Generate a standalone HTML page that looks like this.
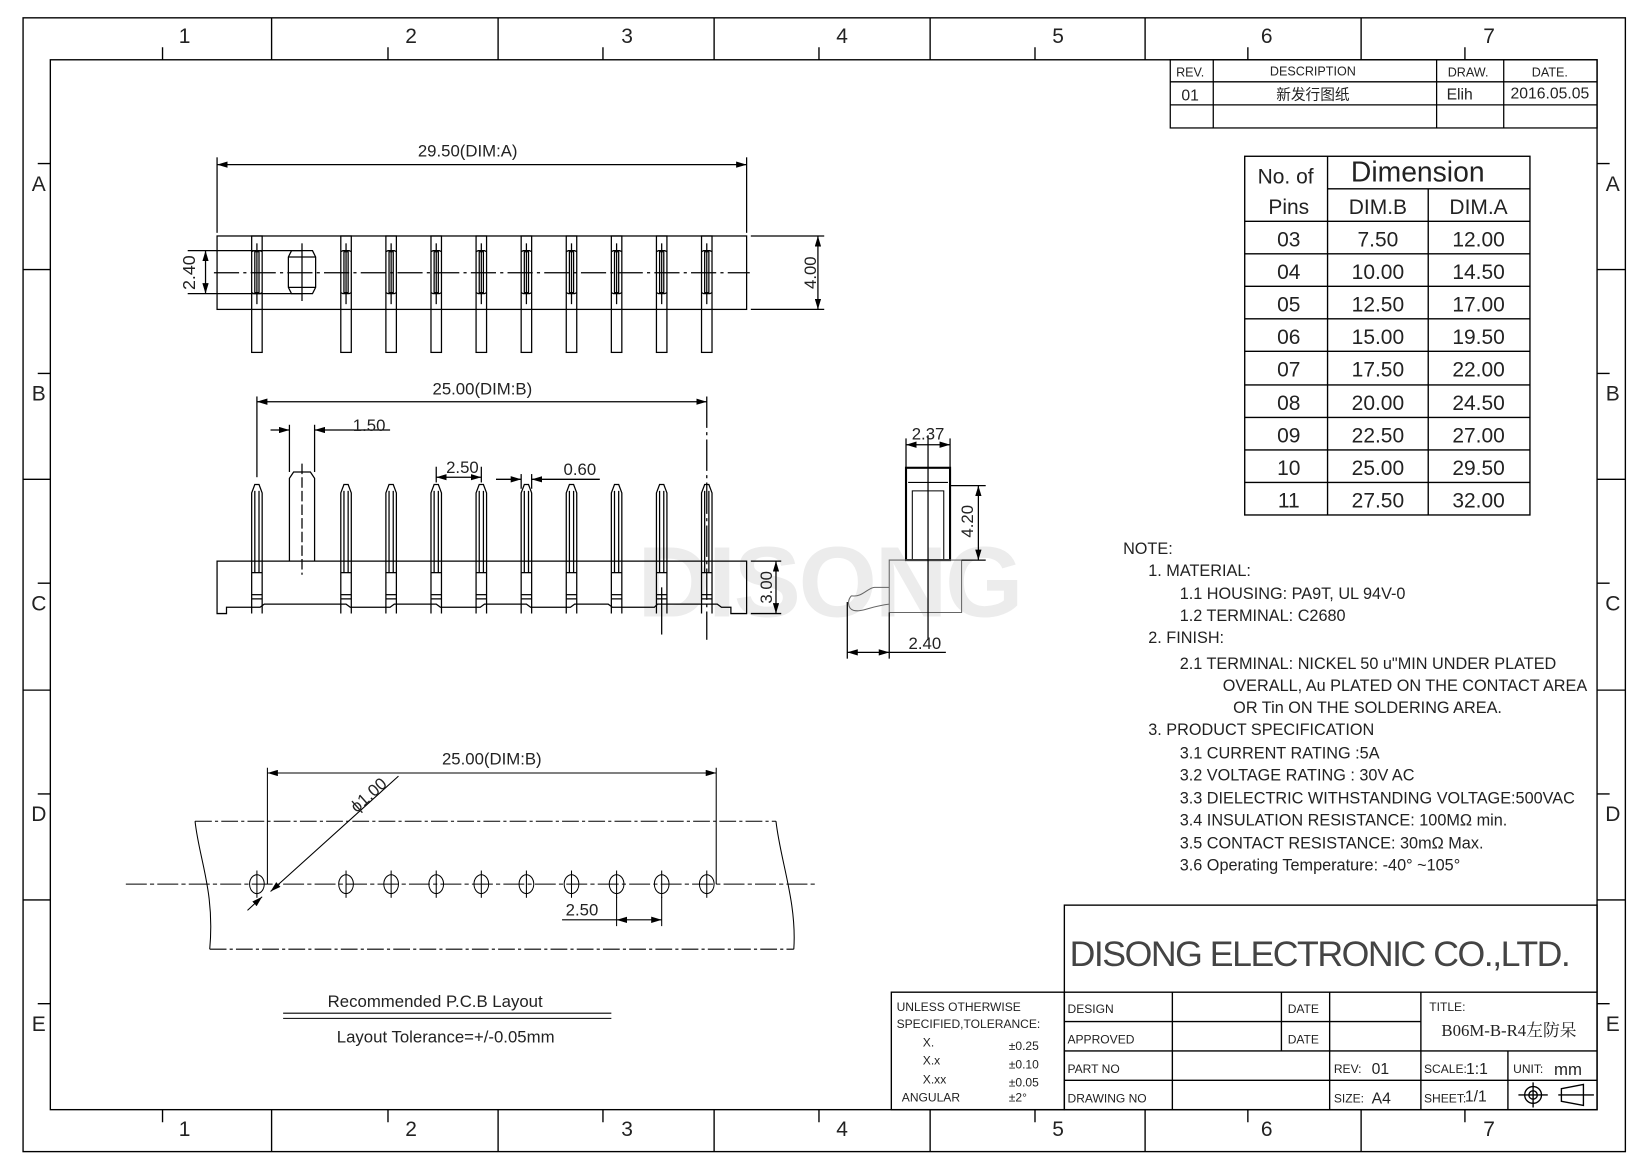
<!DOCTYPE html>
<html><head><meta charset="utf-8"><style>
html,body{margin:0;padding:0;background:#fff}
svg{display:block}
text{font-family:"Liberation Sans","Noto Sans CJK SC",sans-serif;fill:#222}
</style></head><body>
<svg width="1639" height="1160" viewBox="0 0 1563 1106" preserveAspectRatio="none" xmlns="http://www.w3.org/2000/svg">
<defs>
<marker id="ar" viewBox="0 0 10 6" refX="10" refY="3" markerWidth="10" markerHeight="6" orient="auto-start-reverse" markerUnits="userSpaceOnUse"><path d="M0,0 L10,3 L0,6z" fill="#000"/></marker>
<g id="tp" fill="none" stroke="#000" stroke-width="1.2"><rect x="-5" y="225" width="10" height="111"/><path d="M-5,240L-3,239H3L5,240M-5,279L-3,280H3L5,279"/><rect x="-2" y="240" width="4" height="39"/><line x1="0" y1="232" x2="0" y2="290"/></g>
<g id="sp" fill="none" stroke="#000" stroke-width="1.2"><path d="M-5,585 V470 L-2,462 H2 L5,470 V585"/><line x1="-2" y1="468" x2="-2" y2="546"/><line x1="2" y1="468" x2="2" y2="546"/><line x1="-5" y1="546" x2="5" y2="546"/><line x1="-5" y1="567" x2="5" y2="567"/><line x1="-5" y1="571" x2="5" y2="571"/></g>
<g id="ho" fill="none" stroke="#000" stroke-width="1"><ellipse cx="0" cy="843" rx="7" ry="9"/><line x1="0" y1="830" x2="0" y2="856"/></g>
</defs>
<rect width="1563" height="1106" fill="#fff"/>
<text x="608" y="588" font-size="96" font-weight="bold" style="fill:#ececec" textLength="368">DISONG</text>
<g fill="none" stroke="#000" stroke-width="1.3">
<rect x="22" y="17" width="1528" height="1081"/>
<rect x="48" y="57" width="1475" height="1001"/>
<path d="M259,17V57M475,17V57M681,17V57M887,17V57M1092,17V57M1298,17V57M259,1058V1098M475,1058V1098M681,1058V1098M887,1058V1098M1092,1058V1098M1298,1058V1098"/>
<path d="M155,45V57M370,45V57M575,45V57M781,45V57M987,45V57M1190,45V57M1397,45V57M155,1058V1070M370,1058V1070M575,1058V1070M781,1058V1070M987,1058V1070M1190,1058V1070M1397,1058V1070"/>
<path d="M22,257H48M22,457H48M22,658H48M22,858H48M1523,257H1550M1523,457H1550M1523,658H1550M1523,858H1550"/>
<path d="M36,156H48M36,356H48M36,556H48M36,757H48M36,957H48M1523,156H1535M1523,356H1535M1523,556H1535M1523,757H1535M1523,957H1535"/>
</g>
<g font-size="20" text-anchor="middle">
<text x="176" y="41">1</text><text x="392" y="41">2</text><text x="598" y="41">3</text><text x="803" y="41">4</text><text x="1009" y="41">5</text><text x="1208" y="41">6</text><text x="1420" y="41">7</text>
<text x="176" y="1083">1</text><text x="392" y="1083">2</text><text x="598" y="1083">3</text><text x="803" y="1083">4</text><text x="1009" y="1083">5</text><text x="1208" y="1083">6</text><text x="1420" y="1083">7</text>
<text x="37" y="182">A</text><text x="37" y="382">B</text><text x="37" y="582">C</text><text x="37" y="783">D</text><text x="37" y="983">E</text>
<text x="1538" y="182">A</text><text x="1538" y="382">B</text><text x="1538" y="582">C</text><text x="1538" y="783">D</text><text x="1538" y="983">E</text>
</g>
<g fill="none" stroke="#000" stroke-width="1.2">
<rect x="1116" y="57" width="407" height="65"/>
<path d="M1116,78H1523M1116,100H1523M1157,57V122M1370,57V122M1434,57V122"/>
</g>
<g font-size="12" text-anchor="middle">
<text x="1135" y="73">REV.</text><text x="1252" y="72">DESCRIPTION</text><text x="1400" y="73">DRAW.</text><text x="1478" y="73">DATE.</text>
<text x="1135" y="96" font-size="15">01</text><text x="1252" y="95" font-size="14">新发行图纸</text><text x="1392" y="95" font-size="15">Elih</text><text x="1478" y="94" font-size="15">2016.05.05</text>
</g>
<g fill="none" stroke="#000" stroke-width="1.3">
<rect x="1187" y="149" width="272" height="342"/>
<path d="M1266,149V491M1362,180V491M1266,180H1459"/>
<path d="M1187,211H1459M1187,242H1459M1187,273H1459M1187,304H1459M1187,335H1459M1187,367H1459M1187,398H1459M1187,429H1459M1187,460H1459"/>
</g>
<g font-size="20" text-anchor="middle" style="fill:#333">
<text x="1226" y="175">No. of</text><text x="1352" y="173" font-size="27">Dimension</text>
<text x="1229" y="204">Pins</text><text x="1314" y="204">DIM.B</text><text x="1410" y="204">DIM.A</text>
<text x="1229" y="235">03</text><text x="1314" y="235">7.50</text><text x="1410" y="235">12.00</text>
<text x="1229" y="266">04</text><text x="1314" y="266">10.00</text><text x="1410" y="266">14.50</text>
<text x="1229" y="297">05</text><text x="1314" y="297">12.50</text><text x="1410" y="297">17.00</text>
<text x="1229" y="328">06</text><text x="1314" y="328">15.00</text><text x="1410" y="328">19.50</text>
<text x="1229" y="359">07</text><text x="1314" y="359">17.50</text><text x="1410" y="359">22.00</text>
<text x="1229" y="391">08</text><text x="1314" y="391">20.00</text><text x="1410" y="391">24.50</text>
<text x="1229" y="422">09</text><text x="1314" y="422">22.50</text><text x="1410" y="422">27.00</text>
<text x="1229" y="453">10</text><text x="1314" y="453">25.00</text><text x="1410" y="453">29.50</text>
<text x="1229" y="484">11</text><text x="1314" y="484">27.50</text><text x="1410" y="484">32.00</text>
</g>
<!-- TOP VIEW -->
<g fill="none" stroke="#000" stroke-width="1.2">
<rect x="207" y="225" width="505" height="70"/>
<line x1="207" y1="150" x2="207" y2="222"/><line x1="712" y1="150" x2="712" y2="222"/>
<line x1="207" y1="157" x2="712" y2="157" marker-start="url(#ar)" marker-end="url(#ar)"/>
<line x1="716" y1="225" x2="786" y2="225"/><line x1="716" y1="295" x2="786" y2="295"/>
<line x1="780" y1="225" x2="780" y2="295" marker-start="url(#ar)" marker-end="url(#ar)"/>
<line x1="179" y1="239" x2="288" y2="239"/><line x1="179" y1="280" x2="288" y2="280"/>
<line x1="196" y1="239" x2="196" y2="280" marker-start="url(#ar)" marker-end="url(#ar)"/>
<line x1="204" y1="260" x2="715" y2="260" stroke-dasharray="24,4,3,4"/>
<path d="M278,239H298L301,245V274L298,280H278L275,274V245Z"/><line x1="288" y1="232" x2="288" y2="287"/><line x1="275" y1="245" x2="301" y2="245"/><line x1="275" y1="274" x2="301" y2="274"/>
</g>
<use href="#tp" x="245"/><use href="#tp" x="330"/><use href="#tp" x="373"/><use href="#tp" x="416"/><use href="#tp" x="459"/><use href="#tp" x="502"/><use href="#tp" x="545"/><use href="#tp" x="588"/><use href="#tp" x="631"/><use href="#tp" x="674"/>
<text x="446" y="149" font-size="16" text-anchor="middle">29.50(DIM:A)</text>
<text transform="translate(186,260) rotate(-90)" font-size="17" text-anchor="middle">2.40</text>
<text transform="translate(778,260) rotate(-90)" font-size="16" text-anchor="middle">4.00</text>
<!-- SIDE VIEW -->
<g fill="none" stroke="#000" stroke-width="1.2">
<path d="M207,535H712V585H697V579H688L684,576H627L624,579H584L580,576H548L544,579H506L502,576H462L458,579H420L416,576H376L372,579H334L330,576H252L248,579H216V585H207Z"/>
<path d="M276,535V456L280,450H296L300,456V535"/><line x1="288" y1="442" x2="288" y2="548" stroke-dasharray="10,3"/>
<line x1="245" y1="378" x2="245" y2="455"/><line x1="674" y1="378" x2="674" y2="610" stroke-dasharray="30,4,3,4"/>
<line x1="245" y1="383" x2="674" y2="383" marker-start="url(#ar)" marker-end="url(#ar)"/>
<line x1="276" y1="405" x2="276" y2="450"/><line x1="300" y1="405" x2="300" y2="450"/>
<line x1="258" y1="410" x2="276" y2="410" marker-end="url(#ar)"/><line x1="372" y1="410" x2="300" y2="410" marker-end="url(#ar)"/>
<line x1="416" y1="445" x2="416" y2="460"/><line x1="459" y1="445" x2="459" y2="460"/>
<line x1="416" y1="455" x2="459" y2="455" marker-start="url(#ar)" marker-end="url(#ar)"/>
<line x1="497" y1="452" x2="497" y2="466"/><line x1="507" y1="452" x2="507" y2="466"/>
<line x1="473" y1="457" x2="497" y2="457" marker-end="url(#ar)"/><line x1="572" y1="457" x2="507" y2="457" marker-end="url(#ar)"/>
<line x1="631" y1="560" x2="631" y2="605"/>
<line x1="716" y1="535" x2="745" y2="535"/><line x1="716" y1="585" x2="745" y2="585"/>
<line x1="740" y1="535" x2="740" y2="585" marker-start="url(#ar)" marker-end="url(#ar)"/>
</g>
<use href="#sp" x="245"/><use href="#sp" x="330"/><use href="#sp" x="373"/><use href="#sp" x="416"/><use href="#sp" x="459"/><use href="#sp" x="502"/><use href="#sp" x="545"/><use href="#sp" x="588"/><use href="#sp" x="631"/><use href="#sp" x="674"/>
<text x="460" y="376" font-size="16" text-anchor="middle">25.00(DIM:B)</text>
<text x="352" y="411" font-size="16" text-anchor="middle">1.50</text>
<text x="441" y="451" font-size="16" text-anchor="middle">2.50</text>
<text x="553" y="453" font-size="16" text-anchor="middle">0.60</text>
<text transform="translate(736,560) rotate(-90)" font-size="16" text-anchor="middle">3.00</text>
<!-- RIGHT VIEW -->
<g fill="none" stroke="#000" stroke-width="1.2">
<rect x="864" y="446" width="42" height="88" stroke-width="2"/>
<path d="M870,534V468H900V534" stroke-width="1"/>
<path d="M866,460H904" stroke-width="1"/>
<path d="M848,534H917V584H848Z M848,560H834C828,560 822,570 812,568 M812,568C808,572 808,580 814,582C822,584 830,578 848,576" stroke="#666" stroke-width="1"/>
<line x1="885" y1="415" x2="885" y2="610"/>
<line x1="864" y1="418" x2="864" y2="446"/><line x1="906" y1="418" x2="906" y2="446"/>
<line x1="864" y1="424" x2="906" y2="424" marker-start="url(#ar)" marker-end="url(#ar)"/>
<line x1="906" y1="463" x2="940" y2="463"/><line x1="917" y1="534" x2="940" y2="534"/>
<line x1="933" y1="463" x2="933" y2="534" marker-start="url(#ar)" marker-end="url(#ar)"/>
<line x1="808" y1="574" x2="808" y2="628"/><line x1="848" y1="584" x2="848" y2="628"/>
<line x1="808" y1="622" x2="848" y2="622" marker-start="url(#ar)" marker-end="url(#ar)"/>
<line x1="848" y1="622" x2="902" y2="622"/>
</g>
<text x="885" y="419" font-size="16" text-anchor="middle">2.37</text>
<text transform="translate(928,497) rotate(-90)" font-size="16" text-anchor="middle">4.20</text>
<text x="882" y="619" font-size="16" text-anchor="middle">2.40</text>
<!-- PCB LAYOUT -->
<g fill="none" stroke="#000" stroke-width="1">
<line x1="186" y1="783" x2="740" y2="783" stroke-dasharray="16,3,3,3"/>
<line x1="200" y1="905" x2="757" y2="905" stroke-dasharray="16,3,3,3"/>
<path d="M186,783C190,820 205,850 200,905M740,783C744,820 760,860 757,905"/>
<line x1="120" y1="843" x2="780" y2="843" stroke-dasharray="20,3,4,3"/>
<line x1="255" y1="732" x2="255" y2="843"/><line x1="683" y1="732" x2="683" y2="843"/>
<line x1="255" y1="737" x2="683" y2="737" marker-start="url(#ar)" marker-end="url(#ar)"/>
<line x1="380" y1="740" x2="258" y2="850" marker-end="url(#ar)"/>
<line x1="236" y1="868" x2="250" y2="855" marker-end="url(#ar)"/>
<line x1="588" y1="855" x2="588" y2="883"/><line x1="631" y1="855" x2="631" y2="883"/>
<line x1="588" y1="877" x2="631" y2="877" marker-start="url(#ar)" marker-end="url(#ar)"/>
<line x1="536" y1="877" x2="588" y2="877"/>
</g>
<use href="#ho" x="245"/><use href="#ho" x="330"/><use href="#ho" x="373"/><use href="#ho" x="416"/><use href="#ho" x="459"/><use href="#ho" x="502"/><use href="#ho" x="545"/><use href="#ho" x="588"/><use href="#ho" x="631"/><use href="#ho" x="674"/>
<text x="469" y="729" font-size="16" text-anchor="middle">25.00(DIM:B)</text>
<text transform="translate(355,762) rotate(-42)" font-size="16" text-anchor="middle">ϕ1.00</text>
<text x="555" y="873" font-size="16" text-anchor="middle">2.50</text>
<text x="415" y="960" font-size="16" text-anchor="middle">Recommended P.C.B Layout</text>
<line x1="270" y1="966" x2="583" y2="966" stroke="#000"/><line x1="270" y1="971" x2="583" y2="971" stroke="#000"/>
<text x="425" y="994" font-size="16" text-anchor="middle">Layout Tolerance=+/-0.05mm</text>
<!-- NOTES -->
<g font-size="15.5">
<text x="1071" y="528">NOTE:</text>
<text x="1095" y="549">1. MATERIAL:</text>
<text x="1125" y="571">1.1 HOUSING: PA9T, UL 94V-0</text>
<text x="1125" y="592">1.2 TERMINAL: C2680</text>
<text x="1095" y="613">2. FINISH:</text>
<text x="1125" y="638">2.1 TERMINAL: NICKEL 50 u"MIN UNDER PLATED</text>
<text x="1166" y="659">OVERALL, Au PLATED ON THE CONTACT AREA</text>
<text x="1176" y="680">OR Tin ON THE SOLDERING AREA.</text>
<text x="1095" y="701">3. PRODUCT SPECIFICATION</text>
<text x="1125" y="723">3.1 CURRENT RATING :5A</text>
<text x="1125" y="744">3.2 VOLTAGE RATING : 30V AC</text>
<text x="1125" y="766">3.3 DIELECTRIC WITHSTANDING VOLTAGE:500VAC</text>
<text x="1125" y="787">3.4 INSULATION RESISTANCE: 100MΩ min.</text>
<text x="1125" y="809">3.5 CONTACT RESISTANCE: 30mΩ Max.</text>
<text x="1125" y="830">3.6 Operating Temperature: -40° ~105°</text>
</g>
<!-- TITLE BLOCK -->
<g fill="none" stroke="#000" stroke-width="1.3">
<rect x="1015" y="863" width="508" height="195"/>
<rect x="850" y="946" width="165" height="112"/>
<path d="M1015,946H1523M1015,974H1355M1015,1002H1523M1015,1030H1523"/>
<path d="M1118,946V1058M1222,946V1002M1268,946V1058M1355,946V1058M1438,1002V1058"/>
<circle cx="1462" cy="1044" r="8"/><circle cx="1462" cy="1044" r="4"/><path d="M1448,1044H1476M1462,1032V1056M1486,1044H1520M1489,1038L1510,1034V1054L1489,1050Z"/>
</g>
<text x="1020" y="921" font-size="34" textLength="478" style="fill:#444">DISONG ELECTRONIC CO.,LTD.</text>
<g font-size="11.5">
<text x="855" y="964">UNLESS OTHERWISE</text><text x="855" y="980">SPECIFIED,TOLERANCE:</text>
<text x="880" y="998">X.</text><text x="962" y="1001">±0.25</text>
<text x="880" y="1015">X.x</text><text x="962" y="1019">±0.10</text>
<text x="880" y="1033">X.xx</text><text x="962" y="1036">±0.05</text>
<text x="860" y="1050">ANGULAR</text><text x="962" y="1050">±2°</text>
<text x="1018" y="966">DESIGN</text><text x="1228" y="966">DATE</text>
<text x="1018" y="995">APPROVED</text><text x="1228" y="995">DATE</text>
<text x="1018" y="1023">PART NO</text><text x="1272" y="1023">REV:</text><text x="1308" y="1024" font-size="15">01</text>
<text x="1018" y="1051">DRAWING NO</text><text x="1272" y="1051">SIZE:</text><text x="1308" y="1052" font-size="15">A4</text>
<text x="1363" y="964">TITLE:</text>
<text x="1358" y="1023">SCALE:</text><text x="1398" y="1024" font-size="15">1:1</text>
<text x="1443" y="1023">UNIT:</text><text x="1482" y="1025" font-size="16">mm</text>
<text x="1358" y="1051">SHEET:</text><text x="1397" y="1050" font-size="15">1/1</text>
</g>
<text x="1439" y="988" font-size="16" text-anchor="middle" style="font-family:'Liberation Serif','Noto Serif CJK SC',serif">B06M-B-R4左防呆</text>
</svg>
</body></html>
